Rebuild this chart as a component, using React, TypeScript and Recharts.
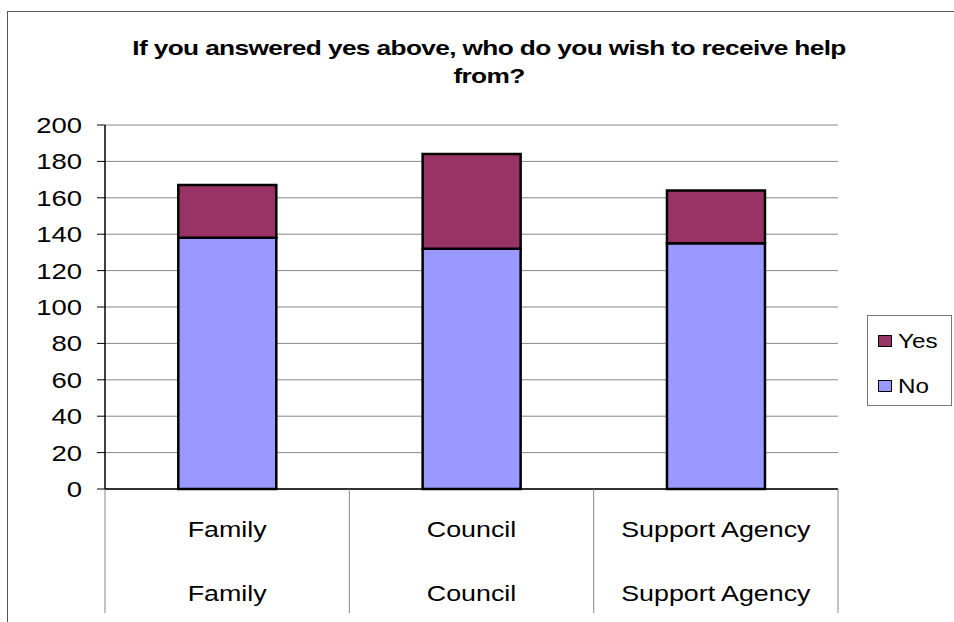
import { Bar, BarChart, CartesianGrid, XAxis, YAxis } from "recharts";

const categories = ["Family", "Council", "Support Agency"];
const noValues = [138, 132, 135];
const yesValues = [29, 52, 29];
const yTicks = [0, 20, 40, 60, 80, 100, 120, 140, 160, 180, 200];

const seriesColors = { Yes: "#993366", No: "#9999FF" };
const FONT = "'Liberation Sans', Arial, sans-serif";
// the original picture is stretched sideways, so the text is too
const STRETCH = 1.25;

const W = 954;
const H = 622;
const PLOT_LEFT = 105;
const PLOT_RIGHT = 838;
const PLOT_TOP = 125;
const PLOT_BOTTOM = 489;
const CAT_W = (PLOT_RIGHT - PLOT_LEFT) / categories.length;

const data = categories.map((name, i) => ({ name, No: noValues[i], Yes: yesValues[i] }));

function CategoryTick(props: any) {
  const { x, y, payload, index } = props;
  const half = CAT_W / 2;
  return (
    <g>
      <line x1={x - half} x2={x - half} y1={y} y2={y + 124} stroke="#888" strokeWidth={1} />
      {index === categories.length - 1 && (
        <line x1={x + half} x2={x + half} y1={y} y2={y + 124} stroke="#888" strokeWidth={1} />
      )}
      {[40, 104].map((dy) => (
        <text
          key={dy}
          transform={`translate(${x} ${y + dy}) scale(1.22 1)`}
          textAnchor="middle"
          dominantBaseline="central"
          fontSize={22}
          fill="#000"
          fontFamily={FONT}
        >
          {payload.value}
        </text>
      ))}
    </g>
  );
}

function ValueTick(props: any) {
  const { x, y, payload } = props;
  return (
    <text
      transform={`translate(${x} ${y}) scale(${STRETCH} 1)`}
      textAnchor="end"
      dominantBaseline="central"
      fontSize={22}
      fill="#000"
      fontFamily={FONT}
    >
      {payload.value}
    </text>
  );
}

export default function App() {
  return (
    <div style={{ position: "absolute", left: 0, top: 0, width: W, height: H, background: "#fff", overflow: "hidden", fontFamily: FONT }}>
      <div
        style={{
          position: "absolute",
          left: 7,
          top: 11,
          width: W,
          height: H,
          borderTop: "1.5px solid #555",
          borderLeft: "1.5px solid #555",
        }}
      />
      <div
        style={{
          position: "absolute",
          left: 0,
          width: 978,
          top: 34,
          textAlign: "center",
          fontWeight: "bold",
          fontSize: 21,
          letterSpacing: "-0.5px",
          lineHeight: "28px",
          color: "#000",
          transform: `scaleX(${STRETCH})`,
          transformOrigin: "489px 0",
        }}
      >
        If you answered yes above, who do you wish to receive help
        <br />
        from?
      </div>
      <div style={{ position: "absolute", left: 0, top: 0 }}>
        <BarChart
          width={W}
          height={H}
          data={data}
          margin={{ top: PLOT_TOP, right: W - PLOT_RIGHT, bottom: 0, left: 7 }}
          barCategoryGap="30%"
        >
          <CartesianGrid vertical={false} stroke="#888" strokeWidth={1} />
          <XAxis
            dataKey="name"
            axisLine={{ stroke: "#000", strokeWidth: 1.5 }}
            tickLine={false}
            tickSize={0}
            tickMargin={0}
            height={H - PLOT_BOTTOM}
            interval={0}
            tick={<CategoryTick />}
          />
          <YAxis
            domain={[0, 200]}
            ticks={yTicks}
            interval={0}
            width={PLOT_LEFT - 7}
            axisLine={{ stroke: "#000", strokeWidth: 1.5 }}
            tickLine={{ stroke: "#000" }}
            tickSize={8}
            tickMargin={15}
            tick={<ValueTick />}
          />
          <Bar dataKey="No" stackId="a" fill={seriesColors.No} stroke="#000" strokeWidth={2.5} isAnimationActive={false} />
          <Bar dataKey="Yes" stackId="a" fill={seriesColors.Yes} stroke="#000" strokeWidth={2.5} isAnimationActive={false} />
        </BarChart>
      </div>
      <div
        style={{
          position: "absolute",
          left: 867,
          top: 315,
          width: 85,
          height: 91,
          border: "1px solid #777",
          boxSizing: "border-box",
        }}
      >
        {(["Yes", "No"] as const).map((key, i) => (
          <div
            key={key}
            style={{ position: "absolute", left: 10, top: 13 + i * 45, display: "flex", alignItems: "center", height: 24 }}
          >
            <span
              style={{
                width: 14,
                height: 12,
                background: seriesColors[key],
                border: "1.5px solid #000",
                boxSizing: "border-box",
                marginRight: 6,
              }}
            />
            <span
              style={{ fontSize: 20, color: "#000", display: "inline-block", transform: "scaleX(1.21)", transformOrigin: "0 50%" }}
            >
              {key}
            </span>
          </div>
        ))}
      </div>
    </div>
  );
}
